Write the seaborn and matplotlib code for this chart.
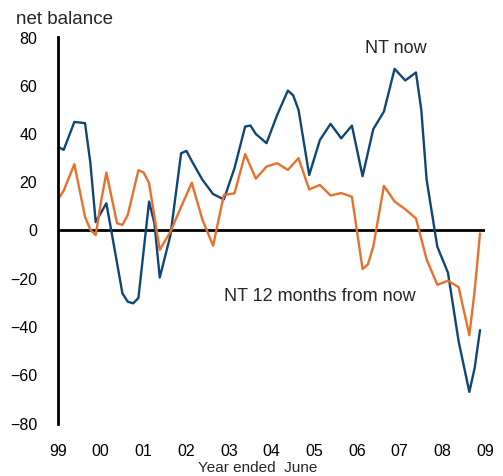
import pandas as pd
import seaborn as sns
import matplotlib
matplotlib.use("Agg")
import matplotlib.pyplot as plt

# values (fractional year, net balance)
now_years = [1999.000, 1999.133, 1999.383, 1999.633, 1999.758, 1999.883, 2000.133,
             2000.383, 2000.508, 2000.633, 2000.758, 2000.883, 2001.133, 2001.258,
             2001.383, 2001.633, 2001.883, 2002.008, 2002.133, 2002.383, 2002.633,
             2002.883, 2003.133, 2003.383, 2003.508, 2003.633, 2003.883, 2004.133,
             2004.383, 2004.508, 2004.633, 2004.883, 2005.133, 2005.383, 2005.633,
             2005.883, 2006.133, 2006.383, 2006.633, 2006.883, 2007.133, 2007.383,
             2007.508, 2007.633, 2007.883, 2008.133, 2008.383, 2008.633, 2008.758,
             2008.883]
now_vals = [34.8, 33.4, 45.0, 44.5, 28.0, 3.5, 11.3,
            -13.5, -26.0, -29.5, -30.2, -28.0, 12.0, 3.0,
            -19.5, -2.0, 32.0, 33.0, 28.8, 21.0, 15.1,
            12.9, 25.8, 43.1, 43.5, 40.0, 36.2, 47.9,
            58.0, 56.0, 50.0, 23.0, 37.5, 44.2, 38.2,
            43.5, 22.5, 42.0, 49.3, 67.0, 62.2, 65.5,
            50.0, 21.0, -6.7, -17.5, -46.0, -66.9, -57.0,
            -41.3]

fut_years = [1999.000, 1999.133, 1999.383, 1999.633, 1999.758, 1999.883, 2000.008,
             2000.133, 2000.383, 2000.508, 2000.633, 2000.883, 2001.008, 2001.133,
             2001.383, 2001.633, 2001.883, 2002.133, 2002.383, 2002.633, 2002.883,
             2003.133, 2003.383, 2003.633, 2003.883, 2004.133, 2004.383, 2004.633,
             2004.883, 2005.133, 2005.383, 2005.633, 2005.883, 2006.133, 2006.258,
             2006.383, 2006.633, 2006.883, 2007.133, 2007.383, 2007.633, 2007.883,
             2008.133, 2008.383, 2008.633, 2008.758, 2008.883]
fut_vals = [12.9, 16.5, 27.5, 5.7, 0.3, -1.9, 12.0,
            24.0, 3.0, 2.3, 6.4, 25.0, 24.0, 19.6,
            -8.0, -0.5, 9.8, 19.8, 4.4, -6.3, 14.7,
            15.4, 31.7, 21.5, 26.5, 27.9, 25.1, 30.0,
            17.0, 18.9, 14.5, 15.5, 14.0, -16.0, -14.0,
            -6.7, 18.5, 12.0, 8.8, 5.0, -12.0, -22.5,
            -20.8, -23.5, -43.4, -25.0, -1.2]

tick_years = list(range(1999, 2010))
tick_labels = ["99", "00", "01", "02", "03", "04", "05", "06", "07", "08", "09"]
y_ticks = [-80, -60, -40, -20, 0, 20, 40, 60, 80]

long_df = pd.concat([
    pd.DataFrame({"year": now_years, "balance": now_vals, "series": "NT now"}),
    pd.DataFrame({"year": fut_years, "balance": fut_vals, "series": "NT 12 months from now"}),
])

sns.set_theme(style="white")
plt.rcParams["font.family"] = ["Liberation Sans", "DejaVu Sans"]

fig = plt.figure(figsize=(5.03, 4.76), dpi=100)
ax = fig.add_axes([58 / 503, 1 - 423.5 / 476, 427 / 503, 386 / 476])

sns.lineplot(data=long_df, x="year", y="balance", hue="series", sort=True,
             palette={"NT now": "#0f4676", "NT 12 months from now": "#e8702a"},
             linewidth=1.7, legend=False, ax=ax)

ax.axhline(0, color="black", lw=2, zorder=1)
ax.set_xlim(1999, 2009)
ax.set_ylim(-80, 80)
ax.set_xticks(tick_years)
ax.set_xticklabels(tick_labels)
ax.set_yticks(y_ticks)
ax.tick_params(axis="x", length=0, pad=15, labelsize=11.5, colors="black")
ax.tick_params(axis="y", length=0, pad=15, labelsize=11.5, colors="black")
ax.set_xlabel("")
ax.set_ylabel("")
for side in ["top", "right", "bottom"]:
    ax.spines[side].set_visible(False)
ax.spines["left"].set_color("black")
ax.spines["left"].set_linewidth(2)

ax.text(2006.92, 75.3, "NT now", ha="center", va="center", fontsize=13)
ax.text(2005.14, -27.5, "NT 12 months from now", ha="center", va="center", fontsize=13)

fig.text(16 / 503, 1 - 19 / 476, "net balance", ha="left", va="center", fontsize=13.5)
fig.text(258 / 503, 1 - 460.5 / 476, "Year ended  June", ha="center", va="top", fontsize=11)

fig.savefig("out.png", dpi=100)
